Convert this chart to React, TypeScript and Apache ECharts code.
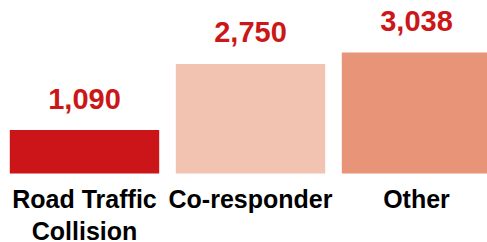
import React, { useEffect, useRef } from "react";
import * as echarts from "echarts";

const categories = ["Road Traffic\nCollision", "Co-responder", "Other"];
const values = [1090, 2750, 3038];
const barColors = ["#CC1518", "#F1C3B0", "#E79478"];

export default function App() {
  const ref = useRef<HTMLDivElement>(null);
  useEffect(() => {
    if (!ref.current) return;
    const chart = echarts.init(ref.current, undefined, { renderer: "svg" });
    chart.setOption({
      animation: false,
      grid: {
        left: 1.5,
        width: 498,
        top: 46,
        height: 127.5,
        containLabel: false,
        outerBoundsMode: "none",
      },
      xAxis: {
        type: "category",
        data: categories,
        axisLine: { show: false },
        axisTick: { show: false },
        axisLabel: {
          interval: 0,
          margin: 9,
          color: "#000000",
          fontFamily: "Liberation Sans",
          fontWeight: "bold",
          fontSize: 25,
          lineHeight: 32,
        },
      },
      yAxis: {
        type: "value",
        min: 0,
        max: 3200,
        show: false,
        splitLine: { show: false },
      },
      series: [
        {
          type: "bar",
          barCategoryGap: "10%",
          data: values.map((v, i) => ({ value: v, itemStyle: { color: barColors[i] } })),
          label: {
            show: true,
            position: "top",
            distance: 17,
            color: "#CC1719",
            fontFamily: "Liberation Sans",
            fontWeight: "bold",
            fontSize: 29,
            formatter: (p: any) => p.value.toLocaleString("en-US"),
          },
        },
      ],
    });
    return () => chart.dispose();
  }, []);
  return (
    <div
      ref={ref}
      style={{ position: "fixed", left: 0, top: 0, width: 500, height: 242, background: "#ffffff" }}
    />
  );
}
